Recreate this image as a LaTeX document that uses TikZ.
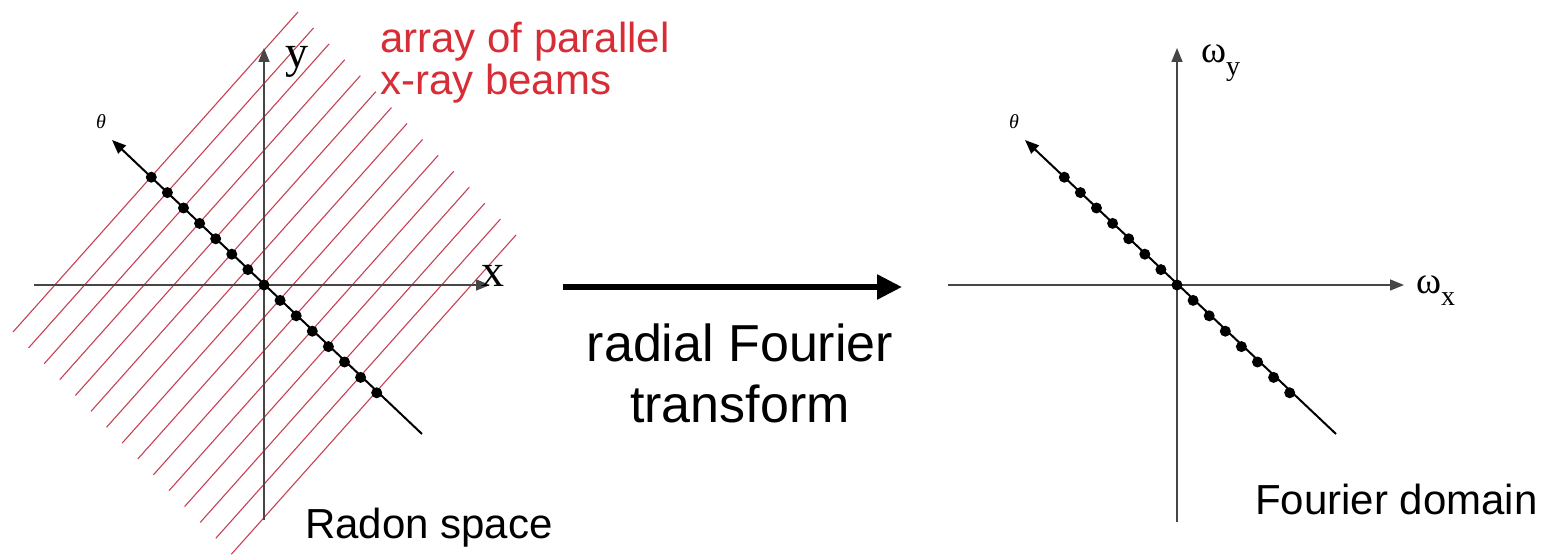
\documentclass[tikz,border=0pt]{standalone}
\usepackage{fontspec}
\setmainfont{Liberation Sans}
\newfontfamily\serif{Liberation Serif}
\usetikzlibrary{arrows.meta}
\definecolor{beamred}{RGB}{200,65,85}
\definecolor{labelred}{RGB}{215,45,55}
\definecolor{axisgray}{RGB}{70,70,70}
\begin{document}
\begin{tikzpicture}[x=1pt,y=-1pt,
  axis/.style={draw=axisgray,line width=1.5pt,-{Triangle[length=14pt,width=11pt]}},
  thetaaxis/.style={draw=black,line width=2pt,-{Triangle[length=14pt,width=11pt]}},
  beam/.style={draw=beamred,line width=1.1pt},
  sample/.style={circle,fill=black,inner sep=0pt,minimum size=11pt},
  bigtext/.style={font=\fontsize{42}{46}\selectfont,inner sep=0pt},
  midtext/.style={font=\fontsize{52}{58}\selectfont,inner sep=0pt},
  axlabel/.style={font=\serif\fontsize{46}{46}\selectfont,inner sep=0pt},
  omlabel/.style={font=\serif\fontsize{38}{38}\selectfont,inner sep=0pt},
  thlabel/.style={font=\serif\itshape\fontsize{20}{20}\selectfont,inner sep=0pt},
  bigarrow/.style={draw=black,line width=5.5pt,-{Triangle[length=25pt,width=24pt]}}
]
\useasboundingbox[fill=white] (0,0) rectangle (1545,556);

% ---------- left panel: beams ----------
\foreach \i in {0,...,14}{
  \coordinate (B\i a) at ({13+15.6*\i},{332+15.87*\i});
  \coordinate (B\i b) at ({298+15.57*\i},{12+15.93*\i});
  \draw[beam] (B\i a) -- (B\i b);
}

% left axes
\coordinate (LO) at (264,285);
\coordinate (LxL) at (34,285);
\coordinate (LxR) at (490,285);
\coordinate (LyB) at (264,520);
\coordinate (LyT) at (264,48);
\draw[axis] (LxL) -- (LxR);
\draw[axis] (LyB) -- (LyT);
\coordinate (LtS) at (422,434);
\coordinate (LtT) at (112,140);
\draw[thetaaxis] (LtS) -- (LtT);
\foreach \k in {-7,...,7}{
  \node[sample] (Ld\k) at ({264+16.1*\k},{285+15.4*\k}) {};
}
\node[axlabel,anchor=base] (Lx) at (493,287) {x};
\node[axlabel,anchor=base] (Ly) at (297,68) {y};
\node[thlabel,anchor=base] (Lth) at (101,129) {θ};
\node[bigtext,text=labelred,anchor=base west] (red1) at (380,53) {array of parallel};
\node[bigtext,text=labelred,anchor=base west] (red2) at (380,95) {x-ray beams};
\node[bigtext,anchor=base west] (radon) at (305,538) {Radon space};

% ---------- middle arrow ----------
\coordinate (A1) at (563,287);
\coordinate (A2) at (902,287);
\draw[bigarrow] (A1) -- (A2);
\node[midtext,anchor=base] (rf1) at (740,361) {radial Fourier};
\node[midtext,anchor=base] (rf2) at (740,422) {transform};

% ---------- right panel ----------
\coordinate (RO) at (1177,285);
\coordinate (RxL) at (948,285);
\coordinate (RxR) at (1404,285);
\coordinate (RyB) at (1177,522);
\coordinate (RyT) at (1177,48);
\draw[axis] (RxL) -- (RxR);
\draw[axis] (RyB) -- (RyT);
\coordinate (RtS) at (1336,434);
\coordinate (RtT) at (1025,140);
\draw[thetaaxis] (RtS) -- (RtT);
\foreach \k in {-7,...,7}{
  \node[sample] (Rd\k) at ({1177+16.1*\k},{285+15.4*\k}) {};
}
\node[thlabel,anchor=base] (Rth) at (1014,129) {θ};
\node[omlabel,anchor=base west] (wy) at (1201,63) {ω\raisebox{-13pt}{\fontsize{28}{28}\selectfont y}};
\node[omlabel,anchor=base west] (wx) at (1416,293) {ω\raisebox{-12pt}{\fontsize{28}{28}\selectfont x}};
\node[bigtext,anchor=base west] (fd) at (1255,514) {Fourier domain};
\end{tikzpicture}
\end{document}
